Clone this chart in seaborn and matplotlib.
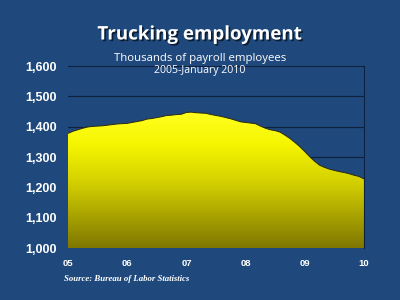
import numpy as np
import pandas as pd
import matplotlib
matplotlib.use("Agg")
import matplotlib.pyplot as plt
import matplotlib.patheffects as pe
from matplotlib.colors import LinearSegmentedColormap
import seaborn as sns

# Monthly trucking employment (thousands), Jan 2005 - Jan 2010
employment = [
    1378, 1385, 1390, 1395, 1399, 1401, 1402, 1403, 1405, 1407, 1409, 1410,   # 2005
    1411, 1414, 1417, 1420, 1425, 1427, 1430, 1433, 1437, 1438, 1440, 1441,   # 2006
    1447, 1448, 1446, 1445, 1444, 1440, 1437, 1434, 1430, 1426, 1421, 1416,   # 2007
    1414, 1412, 1410, 1402, 1395, 1390, 1387, 1382, 1372, 1361, 1348, 1334,   # 2008
    1318, 1301, 1286, 1273, 1266, 1260, 1256, 1252, 1249, 1245, 1240, 1236,   # 2009
    1228,                                                                      # Jan 2010
]
year_ticks = [0, 1, 2, 3, 4, 5]
year_labels = ["05", "06", "07", "08", "09", "10"]
y_ticks = [1000, 1100, 1200, 1300, 1400, 1500, 1600]
y_labels = ["1,000", "1,100", "1,200", "1,300", "1,400", "1,500", "1,600"]

t = np.arange(len(employment)) / 12.0
df = pd.DataFrame({"t": t, "value": employment})

bg = "#1F497D"
sns.set_theme(style="white")
plt.rcParams["font.family"] = ["DejaVu Sans"]

fig = plt.figure(figsize=(4, 3), dpi=100, facecolor=bg)
ax = fig.add_axes([0.17, 0.173, 0.74, 0.607])
ax.set_facecolor(bg)

ymin, ymax = 1000, 1600
ax.set_xlim(0, 5)
ax.set_ylim(ymin, ymax)

# gridlines
for yv in [1300, 1400, 1500]:
    ax.axhline(yv, color="#0E2240", lw=0.9, zorder=1)

# gradient fill under curve
poly = ax.fill_between(df["t"], ymin, df["value"], color="none", lw=0, zorder=2)
cmap = LinearSegmentedColormap.from_list(
    "yg", [(0.0, "#7E7600"), (0.45, "#CFCB00"), (0.75, "#F5F500"), (1.0, "#FFFF20")])
grad = np.linspace(0, 1, 256).reshape(-1, 1)
im = ax.imshow(grad, cmap=cmap, origin="lower", aspect="auto",
               extent=[0, 5, ymin, 1450], zorder=2)
path = poly.get_paths()[0]
im.set_clip_path(path, transform=ax.transData)

sns.lineplot(data=df, x="t", y="value", ax=ax, color="#2A2A10", lw=0.7, zorder=3)

# frame
for side in ["top", "right"]:
    ax.spines[side].set_visible(True)
    ax.spines[side].set_color("#0E2240")
    ax.spines[side].set_linewidth(0.8)
for side in ["bottom", "left"]:
    ax.spines[side].set_visible(False)

ax.set_xticks(year_ticks)
ax.set_xticklabels(year_labels, color="white", fontsize=6.8, fontweight="bold",
                   family="Liberation Sans")
ax.set_yticks(y_ticks)
ax.set_yticklabels(y_labels, color="white", fontsize=9, fontweight="bold",
                   family="Liberation Sans")
ax.tick_params(axis="y", length=0, pad=8)
ax.tick_params(axis="x", length=0, pad=8)
ax.set_xlabel("")
ax.set_ylabel("")

fig.text(0.5, 0.885, "Trucking employment", ha="center", va="center",
         color="white", fontsize=13.5, fontweight="bold", family="Open Sans",
         path_effects=[pe.withSimplePatchShadow(offset=(1.2, -1.2), shadow_rgbFace="black", alpha=0.6)])
fig.text(0.5, 0.805, "Thousands of payroll employees", ha="center", va="center",
         color="white", fontsize=8.2, family="Open Sans")
fig.text(0.5, 0.765, "2005-January 2010", ha="center", va="center",
         color="white", fontsize=7.6, family="Open Sans")
fig.text(0.16, 0.07, "Source: Bureau of Labor Statistics", ha="left", va="center",
         color="white", fontsize=6.3, fontstyle="italic", fontweight="bold",
         family="Liberation Serif")

fig.savefig("out.png", dpi=100, facecolor=bg)
